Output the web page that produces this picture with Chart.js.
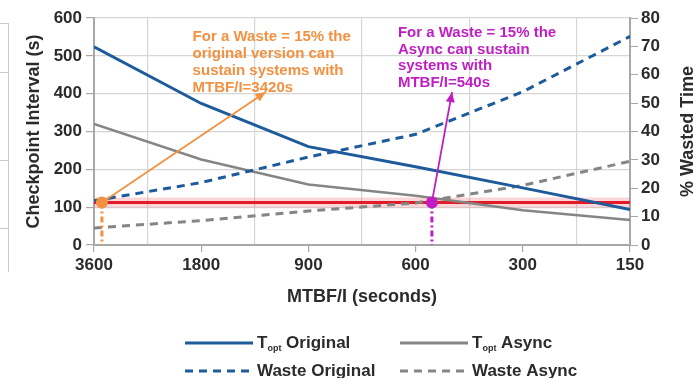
<!DOCTYPE html>
<html>
<head>
<meta charset="utf-8">
<script src="https://cdn.jsdelivr.net/npm/chart.js@4.4.1/dist/chart.umd.min.js"></script>
<style>
  html, body { margin: 0; padding: 0; background: #ffffff; }
  #wrap { width: 700px; height: 378px; position: relative; }
</style>
</head>
<body>
<div id="wrap"><canvas id="chart" width="700" height="378"></canvas></div>
<script>
// MTBF per node (seconds), one category per column
const mtbfLabels = ['3600', '1800', '900', '600', '300', '150'];
const mtbfSeconds = [3600, 1800, 900, 600, 300, 150];

// Optimal checkpoint interval (s), left axis
const toptOriginal = [524, 374, 260, 207, 151, 94];
const toptAsync = [320, 226, 160, 130, 92, 66];

// Wasted time (%), right axis
const wasteOriginal = [15.6, 22, 31, 39, 54, 73.5];
const wasteAsync = [6, 8.6, 12, 14.8, 21, 29.5];

// Waste budget line (%)
const wasteTarget = 15;

// Sustainable MTBF at the waste budget (s)
const sustainOriginal = 3420;
const sustainAsync = 540;

const rightTitle = '% Wasted Time';

const FONT = "'Liberation Sans', Arial, sans-serif";
const INK = '#2b2b2b';
const BLUE = '#1d5b9b';
const GRAY = '#858585';
const RED = '#e21c26';
const ORANGE = '#f39141';
const MAGENTA = '#c01ec4';

// category index (0..5) of any MTBF value, log-interpolated between columns
function posOf(sec) {
  for (let i = 0; i < mtbfSeconds.length - 1; i++) {
    const a = mtbfSeconds[i], b = mtbfSeconds[i + 1];
    if (sec <= a && sec >= b) return i + Math.log(a / sec) / Math.log(a / b);
  }
  return 0;
}

const pts = arr => arr.map((v, i) => ({ x: i, y: v }));
const flat = v => mtbfSeconds.map((_, i) => ({ x: i, y: v }));

const notes = [
  {
    color: ORANGE, mtbf: sustainOriginal, waste: wasteTarget,
    lines: ['For a Waste = 15% the', 'original version can', 'sustain systems with', 'MTBF/I=' + sustainOriginal + 's'],
    textAt: { x: 0.92, y: 550 }, lineGap: 17, arrowTo: { x: 1.6, y: 404 }
  },
  {
    color: MAGENTA, mtbf: sustainAsync, waste: wasteTarget,
    lines: ['For a Waste = 15% the', 'Async can sustain', 'systems with', 'MTBF/I=' + sustainAsync + 's'],
    textAt: { x: 2.835, y: 560 }, lineGap: 16.5, arrowTo: { x: 3.34, y: 404 }
  }
];

// leftover frame of the neighbouring panel on the left edge
const panelEdge = {
  id: 'panelEdge',
  beforeDraw(chart) {
    const ctx = chart.ctx;
    ctx.save();
    ctx.strokeStyle = '#c9c9c9';
    ctx.lineWidth = 1;
    ctx.beginPath();
    ctx.moveTo(8.5, 23); ctx.lineTo(8.5, 272);
    [23, 72, 160, 228].forEach(y => { ctx.moveTo(0, y + 0.5); ctx.lineTo(8.5, y + 0.5); });
    ctx.stroke();
    ctx.restore();
  }
};

// right-hand axis title, reading bottom to top
const rightAxisTitle = {
  id: 'rightAxisTitle',
  afterDraw(chart) {
    const ctx = chart.ctx, a = chart.chartArea, s = chart.scales.y1;
    ctx.save();
    ctx.translate(s.right - 12, (a.top + a.bottom) / 2);
    ctx.rotate(-Math.PI / 2);
    ctx.font = 'bold 18px ' + FONT;
    ctx.fillStyle = INK;
    ctx.textAlign = 'center';
    ctx.textBaseline = 'middle';
    ctx.fillText(rightTitle, 0, 0);
    ctx.restore();
  }
};

// callouts: marker on the waste line, drop line to the axis, arrow and text
const callouts = {
  id: 'callouts',
  afterDatasetsDraw(chart) {
    const ctx = chart.ctx;
    const xs = chart.scales.x, yl = chart.scales.y, yr = chart.scales.y1;
    notes.forEach(n => {
      const px = xs.getPixelForValue(posOf(n.mtbf));
      const py = yr.getPixelForValue(n.waste);
      const base = yl.getPixelForValue(0);
      ctx.save();
      // drop line
      ctx.strokeStyle = n.color;
      ctx.lineWidth = 3;
      ctx.setLineDash([6, 3, 2, 3]);
      ctx.beginPath();
      ctx.moveTo(px, py); ctx.lineTo(px, base);
      ctx.stroke();
      ctx.setLineDash([]);
      // arrow
      const tx = xs.getPixelForValue(n.arrowTo.x), ty = yl.getPixelForValue(n.arrowTo.y);
      ctx.lineWidth = 1.8;
      ctx.beginPath();
      ctx.moveTo(px, py); ctx.lineTo(tx, ty);
      ctx.stroke();
      const ang = Math.atan2(ty - py, tx - px);
      const L = 10, W = 4.5;
      ctx.fillStyle = n.color;
      ctx.beginPath();
      ctx.moveTo(tx, ty);
      ctx.lineTo(tx - L * Math.cos(ang) + W * Math.sin(ang), ty - L * Math.sin(ang) - W * Math.cos(ang));
      ctx.lineTo(tx - L * Math.cos(ang) - W * Math.sin(ang), ty - L * Math.sin(ang) + W * Math.cos(ang));
      ctx.closePath();
      ctx.fill();
      // marker
      ctx.beginPath();
      ctx.arc(px, py, 6, 0, Math.PI * 2);
      ctx.fill();
      // text
      ctx.font = 'bold 15px ' + FONT;
      ctx.textBaseline = 'middle';
      ctx.textAlign = 'left';
      const x0 = xs.getPixelForValue(n.textAt.x), y0 = yl.getPixelForValue(n.textAt.y);
      n.lines.forEach((t, i) => ctx.fillText(t, x0, y0 + i * n.lineGap));
      ctx.restore();
    });
  }
};

// two-column legend with subscripted labels such as T_opt
const subLegend = {
  id: 'subLegend',
  afterDraw(chart) {
    const ctx = chart.ctx;
    const cols = [185, 400], rows = [343, 371], sample = 68;
    const items = chart.data.datasets.filter(d => d.inLegend);
    ctx.save();
    items.forEach((d, i) => {
      const x = cols[i % 2], y = rows[Math.floor(i / 2)];
      ctx.strokeStyle = d.borderColor;
      ctx.lineWidth = 3;
      ctx.setLineDash(d.borderDash || []);
      ctx.beginPath();
      ctx.moveTo(x, y); ctx.lineTo(x + sample, y);
      ctx.stroke();
      ctx.setLineDash([]);
      ctx.fillStyle = INK;
      ctx.textBaseline = 'middle';
      ctx.textAlign = 'left';
      let tx = x + sample + 4;
      const m = d.label.match(/^(\w)_(\w+)(.*)$/);
      if (m) {
        ctx.font = 'bold 17px ' + FONT;
        ctx.fillText(m[1], tx, y);
        tx += ctx.measureText(m[1]).width;
        ctx.font = 'bold 9px ' + FONT;
        ctx.fillText(m[2], tx, y + 6);
        tx += ctx.measureText(m[2]).width;
        ctx.font = 'bold 17px ' + FONT;
        ctx.fillText(m[3], tx, y);
      } else {
        ctx.font = 'bold 17px ' + FONT;
        ctx.fillText(d.label, tx, y);
      }
    });
    ctx.restore();
  }
};

const tickFont = { family: FONT, size: 17, weight: 'bold' };
const titleFont = { family: FONT, size: 18, weight: 'bold' };

new Chart(document.getElementById('chart'), {
  type: 'line',
  data: {
    datasets: [
      { label: 'T_opt Original', inLegend: true, data: pts(toptOriginal), yAxisID: 'y',
        borderColor: BLUE, borderWidth: 3, order: 2 },
      { label: 'T_opt Async', inLegend: true, data: pts(toptAsync), yAxisID: 'y',
        borderColor: GRAY, borderWidth: 2.5, order: 4 },
      { label: 'Waste Original', inLegend: true, data: pts(wasteOriginal), yAxisID: 'y1',
        borderColor: BLUE, borderWidth: 3, borderDash: [8, 6], order: 1 },
      { label: 'Waste Async', inLegend: true, data: pts(wasteAsync), yAxisID: 'y1',
        borderColor: GRAY, borderWidth: 3, borderDash: [8, 6], order: 3 },
      { label: 'Waste budget', data: flat(wasteTarget), yAxisID: 'y1',
        borderColor: RED, borderWidth: 3, order: 5 },
      { label: 'Waste budget halo', data: flat(wasteTarget), yAxisID: 'y1',
        borderColor: 'rgba(232, 70, 80, 0.22)', borderWidth: 10, order: 6 }
    ]
  },
  options: {
    responsive: false,
    animation: false,
    devicePixelRatio: 1,
    layout: { padding: { top: 18, bottom: 66, left: 0, right: 0 } },
    elements: { point: { radius: 0 }, line: { tension: 0, fill: false } },
    plugins: { legend: { display: false }, tooltip: { enabled: false } },
    scales: {
      x: {
        type: 'linear', min: 0, max: mtbfLabels.length - 1,
        afterFit: s => { s.height = 67; },
        ticks: {
          stepSize: 0.5, autoSkip: false, maxRotation: 0, padding: 3,
          color: INK, font: tickFont,
          callback: v => Number.isInteger(v) ? mtbfLabels[v] : ''
        },
        grid: {
          color: c => (c.tick && Number.isInteger(c.tick.value)) ? 'rgba(0,0,0,0)' : '#d6d6d6',
          tickColor: c => (c.tick && Number.isInteger(c.tick.value)) ? '#a8a8a8' : 'rgba(0,0,0,0)',
          tickLength: 7, lineWidth: 1.2
        },
        border: { color: '#a8a8a8', width: 2 },
        title: { display: true, text: 'MTBF/I (seconds)', color: INK, font: titleFont, padding: { top: 4, bottom: 4 } }
      },
      y: {
        position: 'left', min: 0, max: 600,
        afterFit: s => { s.width = 94; },
        ticks: { stepSize: 100, color: INK, font: tickFont, padding: 4 },
        grid: { color: '#d6d6d6', tickColor: '#a8a8a8', tickLength: 8, lineWidth: 1.2 },
        border: { color: '#a8a8a8', width: 2 },
        title: { display: true, text: 'Checkpoint Interval (s)', color: INK, font: titleFont, padding: { top: 23, bottom: 0 } }
      },
      y1: {
        position: 'right', min: 0, max: 80,
        afterFit: s => { s.width = 70; },
        ticks: { stepSize: 10, color: INK, font: tickFont, padding: 3 },
        grid: { drawOnChartArea: false, tickColor: '#a8a8a8', tickLength: 8 },
        border: { color: '#a8a8a8', width: 2 },
        title: { display: false }
      }
    }
  },
  plugins: [panelEdge, callouts, rightAxisTitle, subLegend]
});
</script>
</body>
</html>
